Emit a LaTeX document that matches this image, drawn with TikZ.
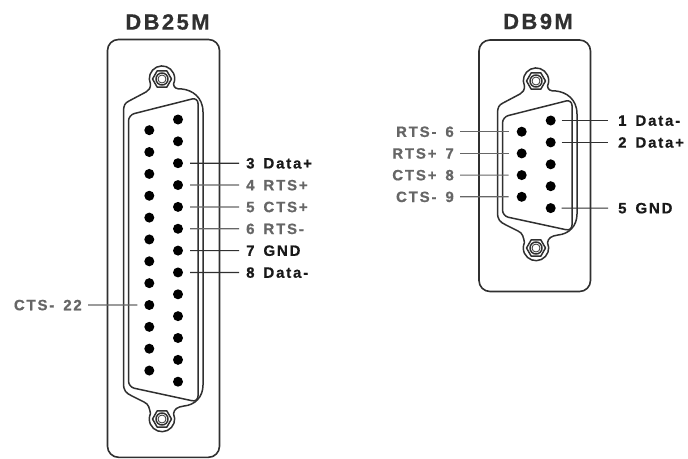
\documentclass[tikz,border=0pt]{standalone}
\usepackage{fontspec}
\setmainfont{Liberation Sans}
\newfontfamily\lblfont[LetterSpace=12,FakeBold=0.6]{Liberation Sans Bold}
\newfontfamily\ttlfont[LetterSpace=11,FakeBold=0.6]{Liberation Sans Bold}
\definecolor{ink}{HTML}{303030}
\definecolor{soft}{HTML}{666666}
\usetikzlibrary{calc}
\tikzset{
  x=1pt,y=-1pt,
  pin/.style={circle,fill=black,inner sep=0pt,minimum size=10pt,draw=none},
  ttl/.style={font=\ttlfont\fontsize{22}{22}\selectfont,text=ink,inner sep=0pt},
  lbl/.style={font=\lblfont\fontsize{15}{15}\selectfont,inner sep=0pt,text height=10.5pt,text depth=0pt,text=black!90},
  lblg/.style={lbl,text=soft},
  lead/.style={line width=1.2pt,draw=ink},
  leadg/.style={line width=1.2pt,draw=soft},
  plate/.style={line width=1.6pt,draw=ink,rounded corners=11pt},
  shelline/.style={line width=1.5pt,draw=ink,line join=round},
}
\newcommand{\shellshape}[3]{% cx, top ear y, bottom ear y
 \begin{scope}[shift={(#1,0)}]
  \def\T{#2}\def\B{#3}
  \draw[shelline] (-38.5,{\T+33}) .. controls (-38.5,{\T+26}) and (-37,{\T+24}) .. (-33,{\T+22})
   -- (-16,{\T+13}) .. controls (-13,{\T+11.5}) and (-11.5,{\T+9}) .. (-11.5,{\T+5})
   arc (155:385:12.7)
   .. controls (12,{\T+9}) and (14,{\T+10}) .. (20,{\T+10})
   .. controls (30,{\T+11}) and (41,{\T+18}) .. (41,{\T+33})
   -- (41,{\B-34}) .. controls (41,{\B-22}) and (33,{\B-14}) .. (22,{\B-13})
   .. controls (15,{\B-12}) and (12.5,{\B-10}) .. (11.5,{\B-5.4})
   arc (-25:205:12.7)
   .. controls (-12.5,{\B-10}) and (-13,{\B-15}) .. (-18,{\B-17})
   -- (-30,{\B-23}) .. controls (-36,{\B-26}) and (-38.5,{\B-28}) .. (-38.5,{\B-36})
   -- cycle;
  \draw[shelline,rounded corners=6pt] (-33.5,{\T+36}) -- (36,{\T+18.5}) -- (36,{\B-17}) -- (-33.5,{\B-32}) -- cycle;
  \foreach \Y in {\T,\B}{
   \draw[shelline] ($(0,\Y)+(0:9.5)$) -- ($(0,\Y)+(60:9.5)$) -- ($(0,\Y)+(120:9.5)$) -- ($(0,\Y)+(180:9.5)$) -- ($(0,\Y)+(240:9.5)$) -- ($(0,\Y)+(300:9.5)$) -- cycle;
   \draw[shelline,line width=1.5pt] (0,\Y) circle[radius=6pt];
   \draw[shelline,line width=.8pt] (0,\Y) circle[radius=4pt];
  }
 \end{scope}}
\begin{document}
\begin{tikzpicture}
\useasboundingbox (0,0) rectangle (688,458);
\clip (0,0) rectangle (688,458);
% titles
\node[ttl] (t25) at (167.5,22) {DB25M};
\node[ttl] (t9) at (538,21.5) {DB9M};
% plates
\draw[plate] (107.5,457.3) -- (107.5,39.5) -- (219.5,39.5) -- (219.5,457.3) -- cycle;
\draw[plate] (479,291.5) -- (479,40) -- (590.5,40) -- (590.5,291.5) -- cycle;
\shellshape{162}{79}{419}
\shellshape{536}{81}{248}
% DB25 pins
\foreach \i in {1,...,13}{ \node[pin] (r\i) at (178,{119.5+21.85*(\i-1)}) {}; }
\foreach \i in {1,...,12}{ \node[pin] (l\i) at (149.3,{130.2+21.85*(\i-1)}) {}; }
% DB9 pins
\foreach \i in {1,...,5}{ \node[pin] (nr\i) at (550.7,{120.5+21.9*(\i-1)}) {}; }
\foreach \i in {1,...,4}{ \node[pin] (nl\i) at (521.7,{131.7+21.7*(\i-1)}) {}; }
% DB25 labels
\node[lbl,anchor=west]  (a3) at (246,163.2) {3\hspace{3pt} Data+};
\node[lblg,anchor=west] (a4) at (246,185.1) {4\hspace{3pt} RTS+};
\node[lblg,anchor=west] (a5) at (246,206.9) {5\hspace{3pt} CTS+};
\node[lblg,anchor=west] (a6) at (246,228.8) {6\hspace{3pt} RTS-};
\node[lbl,anchor=west]  (a7) at (246,250.6) {7\hspace{3pt} GND};
\node[lbl,anchor=west]  (a8) at (246,272.5) {8\hspace{3pt} Data-};
\node[lblg,anchor=east] (a22) at (82,305) {CTS-\hspace{3pt} 22};
% DB9 labels
\node[lbl,anchor=west]  (b1) at (618,120.5) {1\hspace{3pt} Data-};
\node[lbl,anchor=west]  (b2) at (618,142.4) {2\hspace{3pt} Data+};
\node[lbl,anchor=west]  (b5) at (618,208.1) {5\hspace{3pt} GND};
\node[lblg,anchor=east] (b6) at (454,131.7) {RTS-\hspace{3pt} 6};
\node[lblg,anchor=east] (b7) at (454,153.4) {RTS+\hspace{3pt} 7};
\node[lblg,anchor=east] (b8) at (454,175.1) {CTS+\hspace{3pt} 8};
\node[lblg,anchor=east] (b9) at (454,196.8) {CTS-\hspace{3pt} 9};
% connectors
\draw[lead,shorten <=12pt,shorten >=7pt] (r3.center) -- (a3.west);
\draw[leadg,shorten <=12pt,shorten >=7pt] (r4.center) -- (a4.west);
\draw[leadg,shorten <=12pt,shorten >=7pt] (r5.center) -- (a5.west);
\draw[leadg,shorten <=12pt,shorten >=7pt] (r6.center) -- (a6.west);
\draw[lead,shorten <=12pt,shorten >=7pt] (r7.center) -- (a7.west);
\draw[lead,shorten <=12pt,shorten >=7pt] (r8.center) -- (a8.west);
\draw[leadg,shorten <=12pt,shorten >=6pt] (l9.center) -- (a22.east);
\draw[lead,shorten <=11pt,shorten >=10pt] (nr1.center) -- (b1.west);
\draw[lead,shorten <=11pt,shorten >=10pt] (nr2.center) -- (b2.west);
\draw[lead,shorten <=11pt,shorten >=10pt] (nr5.center) -- (b5.west);
\draw[leadg,shorten <=13pt,shorten >=6pt] (nl1.center) -- (b6.east);
\draw[leadg,shorten <=13pt,shorten >=6pt] (nl2.center) -- (b7.east);
\draw[leadg,shorten <=13pt,shorten >=6pt] (nl3.center) -- (b8.east);
\draw[leadg,shorten <=13pt,shorten >=6pt] (nl4.center) -- (b9.east);
\end{tikzpicture}
\end{document}
